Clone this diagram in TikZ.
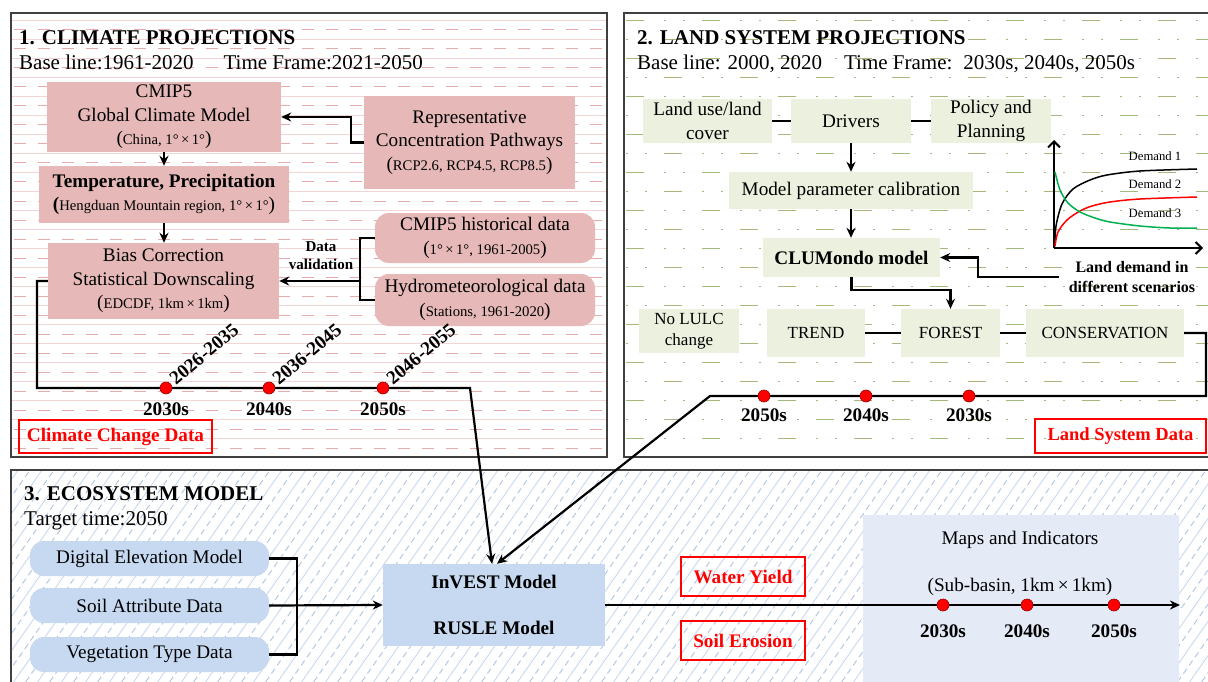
\documentclass[tikz,border=0pt]{standalone}
\usepackage{fontspec}
\setmainfont{Liberation Serif}
\usetikzlibrary{arrows.meta}
\definecolor{pinkbox}{HTML}{E6B9B8}
\definecolor{greenbox}{HTML}{EBF1DE}
\definecolor{bluebox}{HTML}{C6D9F1}
\definecolor{mapbox}{HTML}{E4EAF6}
\definecolor{pinkline}{HTML}{F3D5D5}
\definecolor{pinkdash}{HTML}{E8ABAB}
\definecolor{olivec}{HTML}{A3B87A}
\definecolor{hatchA}{HTML}{CBD9EE}
\definecolor{hatchB}{HTML}{AFC5E4}
\definecolor{greenc}{HTML}{00B050}
\newcommand\fntT{\fontsize{21}{25}\selectfont}
\newcommand\fntU{\fontsize{21}{25}\selectfont}
\newcommand\fntB{\fontsize{19.2}{23.5}\selectfont}
\newcommand\fntM{\fontsize{17}{21}\selectfont}
\newcommand\fntS{\fontsize{14.7}{18}\selectfont}
\newcommand\fntD{\fontsize{15}{18}\selectfont}
\newcommand\fntL{\fontsize{16}{20}\selectfont}
\newcommand\fntXS{\fontsize{12.7}{15}\selectfont}
\begin{document}
\begin{tikzpicture}[x=1pt,y=-1pt,
  ln/.style={line width=2.2pt, black},
  arr/.style={ln, -{Stealth[length=10pt,width=9pt]}},
  pbox/.style={fill=pinkbox, inner sep=0pt, align=center, font=\fntB},
  prbox/.style={pbox, rounded corners=14pt},
  gbox/.style={fill=greenbox, inner sep=0pt, align=center, font=\fntB},
  bbox/.style={fill=bluebox, rounded corners=14pt, inner sep=0pt, align=center, font=\fntB},
  redbox/.style={draw=red, line width=2pt, text=red, font=\fntB\bfseries, inner sep=0pt},
  reddot/.style={circle, fill=red, draw=red!60!black, line width=0.6pt, minimum size=12pt, inner sep=0pt},
  yr/.style={font=\fntB\bfseries, inner sep=1pt},
  panel/.style={draw=black!75, line width=1.2pt},
  axis/.style={line width=2pt, -{Straight Barb[length=6pt,width=12pt]}},
]
\useasboundingbox (0,0) rectangle (1208,682);
\fill[white] (0,0) rectangle (1208,682);

% ---------- backgrounds ----------
\begin{scope}
\clip (11,13) rectangle (607,457);
\foreach \k in {0,...,23} {
  \draw[pinkline, line width=1pt] (11,20.7+19*\k) -- (607,20.7+19*\k);
  \draw[pinkdash, line width=1pt, dash pattern=on 12pt off 12pt] (14,30+19*\k) -- (607,30+19*\k);
}
\end{scope}
\begin{scope}
\clip (624,13) rectangle (1210,457);
\foreach \k in {0,...,23} {
  \pgfmathsetmacro\ph{mod(\k,2)*38}
  \draw[olivec, line width=1.4pt, dash pattern=on 18pt off 20pt on 1.6pt off 17.4pt on 1.6pt off 17.4pt, dash phase=\ph] (626,20.7+19*\k) -- (1210,20.7+19*\k);
}
\end{scope}
\begin{scope}
\clip (11,470) rectangle (1210,690);
\foreach \i in {0,...,58} {
  \pgfmathsetmacro\xx{-160+24*\i}
  \draw[hatchA, line width=0.9pt] (\xx,690) -- (\xx+154,470);
  \draw[hatchB, line width=0.9pt, dash pattern=on 6pt off 4pt] (\xx+12,690) -- (\xx+166,470);
}
\end{scope}
\draw[panel] (11,13) rectangle (607,457);
\draw[panel] (624,13) rectangle (1215,457);
\draw[panel] (11,470) rectangle (1215,690);

% ---------- panel 1 ----------
\node[anchor=base west, font=\fntT\bfseries, inner sep=0pt] (t1) at (19,45) {1. CLIMATE PROJECTIONS};
\node[anchor=base west, font=\fntU, inner sep=0pt] (s1) at (19,70) {Base line:1961-2020\hspace{30pt}Time Frame:2021-2050};

\node[pbox, minimum width=234pt, minimum height=70pt] (gcm) at (164,117)
  {CMIP5\\Global Climate Model\\{(\fntS China, 1°\,×\,1°\fntB)}};
\node[pbox, minimum width=211pt, minimum height=93pt] (rcp) at (469.5,142.5)
  {Representative\\Concentration Pathways\\{(\fntS RCP2.6, RCP4.5, RCP8.5\fntB)}};
\node[pbox, minimum width=250pt, minimum height=57pt] (temp) at (164,194.5)
  {\textbf{Temperature, Precipitation}\\{\textbf{(}\fntS Hengduan Mountain region, 1°\,×\,1°\fntB)}};
\node[prbox, minimum width=220pt, minimum height=50pt] (hist) at (485,238)
  {CMIP5 historical data\\{(\fntS 1°\,×\,1°, 1961-2005\fntB)}};
\node[prbox, minimum width=220pt, minimum height=52pt] (hydro) at (485,300)
  {Hydrometeorological data\\{(\fntS Stations, 1961-2020\fntB)}};
\node[pbox, minimum width=231pt, minimum height=76pt] (bias) at (163.5,281)
  {Bias Correction\\Statistical Downscaling\\{(\fntS EDCDF, 1km\,×\,1km\fntB)}};
\node[font=\fntD\bfseries, align=center, inner sep=0pt] (dv) at (321,256) {Data\\validation};

\draw[arr] (rcp.west) -- ++(-13,0) |- (gcm.east);
\draw[arr] (gcm.south) -- (gcm.south |- temp.north);
\draw[arr] (temp.south) -- (temp.south |- bias.north);
\coordinate (dvx) at (360,281);
\draw[ln] (hist.west) -- ++(-15,0) |- (hydro.west);
\draw[arr] (dvx) -- (bias.east);

\coordinate (c1b) at (37,388);
\coordinate (c1c) at (470,388);
\node[redbox, minimum width=193pt, minimum height=33pt] (ccd) at (115.5,436.5) {Climate Change Data};

% ---------- panel 2 ----------
\node[anchor=base west, font=\fntT\bfseries, inner sep=0pt] (t2) at (637,45) {2. LAND SYSTEM PROJECTIONS};
\node[anchor=base west, font=\fntU, inner sep=0pt] (s2) at (637,70) {Base line: 2000, 2020\hspace{22pt}Time Frame:\hspace{11pt}2030s, 2040s, 2050s};

\node[gbox, minimum width=129pt, minimum height=44pt] (lulc) at (707.5,121) {Land use/land\\cover};
\node[gbox, minimum width=120pt, minimum height=44pt] (drv) at (851,121) {Drivers};
\node[gbox, minimum width=120pt, minimum height=44pt] (pol) at (991,121) {Policy and\\Planning};
\node[gbox, minimum width=244pt, minimum height=37pt] (mpc) at (851,190.5) {Model parameter calibration};
\node[gbox, minimum width=177pt, minimum height=39pt, font=\fntB\bfseries] (clu) at (851.5,257.5) {CLUMondo model};
\node[gbox, minimum width=100pt, minimum height=44pt, font=\fntM] (nol) at (689,331) {No LULC\\change};
\node[gbox, minimum width=98pt, minimum height=48pt, font=\fntM] (trend) at (816,333) {TREND};
\node[gbox, minimum width=99pt, minimum height=48pt, font=\fntM] (forest) at (950.5,333) {FOREST};
\node[gbox, minimum width=158pt, minimum height=48pt, font=\fntM] (cons) at (1105,333) {CONSERVATION};

\draw[ln] (lulc.east) -- (drv.west);
\draw[ln] (drv.east) -- (pol.west);
\draw[arr] (drv.south) -- (mpc.north);
\draw[arr] (mpc.south) -- (mpc.south |- clu.north);
\coordinate (cl1) at (851.5,290);
\draw[arr] (clu.south) -- (cl1) -| (forest.north);
\draw[ln] (trend.east) -- (forest.west);
\draw[ln] (forest.east) -- (cons.west);

% demand graph
\coordinate (go) at (1054,248);
\coordinate (gy) at (1054,140);
\coordinate (gx) at (1203,248);
\draw[axis] (go) -- (gy);
\draw[axis] (go) -- (gx);
\draw[black, line width=1.5pt] plot[smooth] coordinates {(1055,246) (1056,226) (1062,204) (1073,189) (1090,180) (1107,175) (1140,171) (1197,169)};
\draw[red, line width=1.5pt] plot[smooth] coordinates {(1055,246) (1058,232) (1067,220) (1080,211) (1092,206) (1110,202) (1140,199) (1197,197)};
\draw[greenc, line width=1.5pt] plot[smooth] coordinates {(1055,172) (1060,190) (1068,203) (1080,212) (1095,218) (1110,222) (1140,226) (1170,228) (1197,228)};
\node[font=\fntXS] (dm1) at (1155,156) {Demand 1};
\node[font=\fntXS] (dm2) at (1155,184) {Demand 2};
\node[font=\fntXS] (dm3) at (1155,213) {Demand 3};
\node[font=\fntL\bfseries, align=center, inner sep=0pt] (ld) at (1132,277) {Land demand in\\different scenarios};
\coordinate (ldb) at (978,277);
\draw[arr] ([xshift=-10pt]ld.west) -- (ldb) |- (clu.east);

\coordinate (b2a) at (1206,396);
\coordinate (b2b) at (710,396);
\node[redbox, minimum width=171pt, minimum height=34pt, font=\fontsize{18.5}{22}\selectfont\bfseries] (lsd) at (1120.5,436) {Land System Data};

% ---------- panel 3 ----------
\node[anchor=base west, font=\fntT\bfseries, inner sep=0pt] (t3) at (24,500) {3. ECOSYSTEM MODEL};
\node[anchor=base west, font=\fntU, inner sep=0pt] (s3) at (24,525) {Target time:2050};

\node[bbox, minimum width=239pt, minimum height=35pt] (dem) at (149.5,558.5) {Digital Elevation Model};
\node[bbox, minimum width=239pt, minimum height=35pt] (soil) at (149.5,605.5) {Soil Attribute Data};
\node[bbox, minimum width=239pt, minimum height=35pt] (veg) at (149.5,654.5) {Vegetation Type Data};
\node[fill=bluebox, minimum width=222pt, minimum height=82pt, inner sep=0pt, align=center, font=\fntB\bfseries] (inv) at (494,605) {InVEST Model\\[22.5pt]RUSLE Model};
\node[fill=mapbox, minimum width=316pt, minimum height=170pt, inner sep=0pt] (maps) at (1021,600) {};
\node[font=\fntB] (mt) at (1020,540) {Maps and Indicators};
\node[font=\fntB] (ms) at (1020,587) {(Sub-basin, 1km\,×\,1km)};

\coordinate (pj) at (297,605.5);
\draw[ln] (dem.east) -| (pj) |- (veg.east);
\draw[arr] (soil.east) -- (inv.west);
\coordinate (mx) at (1180,605);
\draw[arr] (inv.east) -- (mx);
\node[reddot] (d31) at (943,605) {};
\node[reddot] (d32) at (1027,605) {};
\node[reddot] (d33) at (1114,605) {};
\node[yr] (l31) at (943,631) {2030s};
\node[yr] (l32) at (1027,631) {2040s};
\node[yr] (l33) at (1114,631) {2050s};
\node[redbox, minimum width=124pt, minimum height=39pt] (wy) at (743,576.5) {Water Yield};
\node[redbox, minimum width=124pt, minimum height=39pt] (se) at (743,640.5) {Soil Erosion};

% ---------- timelines into the ecosystem model ----------
\draw[arr] (bias.west) -| (c1b) -- (c1c) -- ([xshift=-2pt]inv.north);
\node[reddot] (d11) at (166,388) {};
\node[reddot] (d12) at (269,388) {};
\node[reddot] (d13) at (383,388) {};
\node[yr] (l11) at (166,409) {2030s};
\node[yr] (l12) at (269,409) {2040s};
\node[yr] (l13) at (383,409) {2050s};
\node[yr, rotate=40] (r11) at (204,354) {2026-2035};
\node[yr, rotate=40] (r12) at (307,354) {2036-2045};
\node[yr, rotate=40] (r13) at (421,354) {2046-2055};

\draw[arr] (cons.east) -| (b2a) -- (b2b) -- ([xshift=3pt]inv.north);
\node[reddot] (d21) at (764,396) {};
\node[reddot] (d22) at (866,396) {};
\node[reddot] (d23) at (969,396) {};
\node[yr] (l21) at (764,415) {2050s};
\node[yr] (l22) at (866,415) {2040s};
\node[yr] (l23) at (969,415) {2030s};
\end{tikzpicture}
\end{document}
